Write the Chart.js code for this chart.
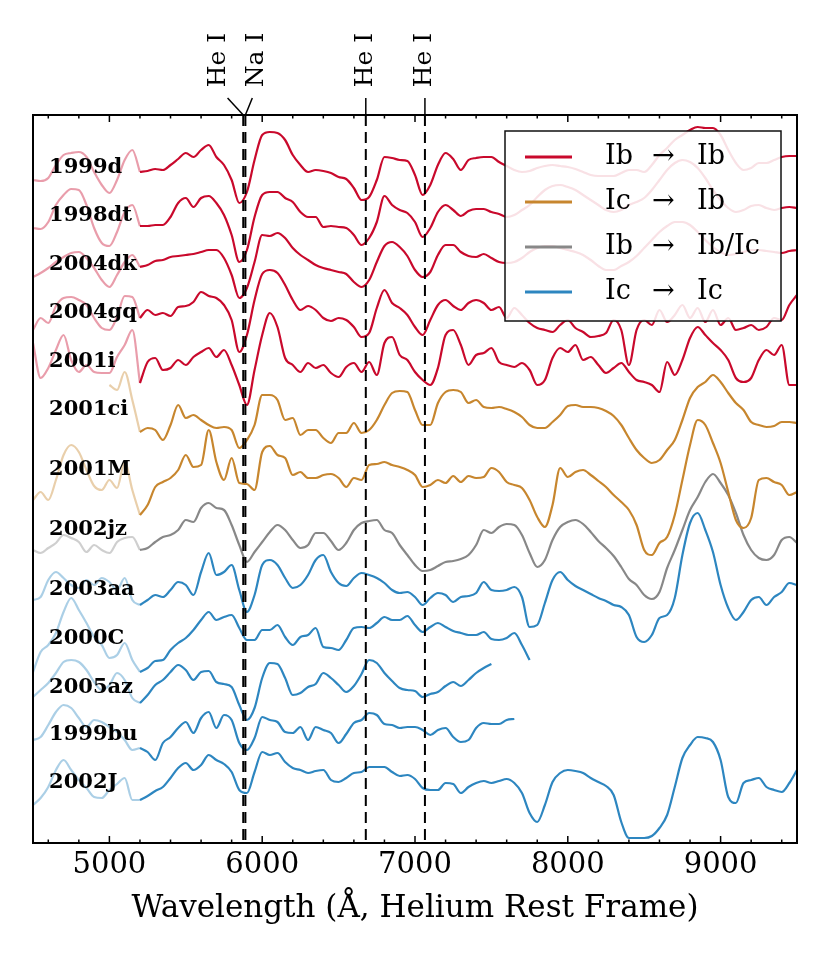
<!DOCTYPE html>
<html>
<head>
<meta charset="utf-8">
<script src="https://cdn.jsdelivr.net/npm/chart.js@4.4.1/dist/chart.umd.min.js"></script>
<style>
  body { margin: 0; background: #fff; }
</style>
</head>
<body>
<canvas id="myCanvas" width="830" height="969"></canvas>
<script>
// wavelength grid, Angstrom (50 A steps)
const wave = [];
for (let w = 4500; w <= 9500; w += 50) wave.push(w);
const fadeBelow = 5200;

// x ticks every 200 A, labelled every 1000 A
const tickWaves = [4600,4800,5000,5200,5400,5600,5800,6000,6200,6400,6600,6800,7000,
  7200,7400,7600,7800,8000,8200,8400,8600,8800,9000,9200,9400];
const tickLabels = ['5000','6000','7000','8000','9000'];

// spectra: scaled flux + offset, one value per grid point
const sn1999d = [820,819,822,835,845,847,848,843,828,815,
  807,820,840,850,828,829,831,830,835,841,847,843,850,855,843,835,820,797,808,840,
  865,868,867,860,845,835,828,830,829,827,823,821,812,800,803,820,843,842,840,839,
  825,805,815,835,847,841,830,840,842,843,843,838,834,830,828,829,832,834,835,834,
  833,831,828,825,824,824,824,827,830,830,828,835,845,852,860,865,870,873,872,872,
  865,850,837,830,832,837,837,840,843,844,844];
const sn1998dt = [772,771,778,795,805,811,810,795,772,757,
  754,768,788,795,774,774,775,775,783,797,802,793,802,804,797,785,765,738,750,783,
  805,808,808,802,798,788,783,783,773,774,773,772,765,755,762,778,804,795,790,787,
  778,763,772,788,795,790,784,789,791,791,788,786,783,785,790,795,803,810,814,815,
  813,810,805,800,795,790,788,790,795,798,802,810,820,830,837,840,838,832,822,810,
  800,792,788,790,794,795,792,790,792,793,792];
const sn2004dk = [723,727,732,738,743,747,748,742,732,720,
  713,725,738,745,733,735,739,740,743,744,745,746,748,750,750,742,725,702,712,738,
  765,764,767,762,752,745,740,735,732,730,728,726,718,713,720,738,754,758,753,744,
  730,723,728,745,755,755,748,744,743,746,742,738,737,738,742,748,752,754,754,752,
  750,748,745,740,734,730,730,734,738,744,752,760,768,774,778,778,775,768,760,753,
  748,745,746,748,750,750,749,748,747,749,750];
const sn2004gq = [670,682,677,694,702,703,700,695,682,672,
  670,683,704,703,682,690,685,687,684,693,694,698,708,704,702,695,680,648,665,700,
  726,730,727,715,700,690,694,690,682,679,682,680,673,663,667,692,710,697,692,685,
  673,665,680,695,700,694,690,697,700,697,690,693,682,692,685,677,672,670,668,675,
  680,672,668,663,664,667,680,670,635,670,680,675,690,678,685,695,682,692,678,690,
  675,682,670,672,675,670,673,682,680,695,705];
const sn2001i = [657,622,632,650,665,640,628,635,628,627,
  627,643,655,670,617,638,642,630,632,640,635,643,648,652,643,650,635,615,595,630,
  665,687,673,642,635,628,637,632,635,627,623,633,637,628,638,625,657,663,645,640,
  628,620,615,632,665,670,655,635,645,647,652,638,635,633,637,630,615,620,642,652,
  648,655,640,643,635,627,632,637,628,620,618,615,608,638,625,640,662,673,665,657,
  650,640,622,618,622,640,650,645,655,615,615];
const sn2001ci = [null,null,null,null,null,null,null,null,null,null,
  615,610,628,600,568,572,570,560,575,595,582,585,580,575,572,573,570,552,560,575,
  605,605,600,580,582,565,570,570,562,557,567,567,577,567,570,580,595,607,609,608,
  590,575,575,597,608,610,608,597,600,593,592,593,591,588,583,575,572,572,578,585,
  594,595,593,593,592,589,584,575,562,550,542,537,540,550,560,580,602,613,618,625,
  618,607,597,590,578,575,573,574,578,578,577];
const sn2001M = [500,508,500,520,545,555,548,530,514,510,
  520,512,538,510,485,495,513,518,522,530,545,533,535,570,538,520,542,517,516,510,
  548,554,545,542,525,528,522,522,525,526,522,513,522,520,535,536,538,535,533,530,
  525,513,515,520,517,524,518,524,522,523,532,528,518,515,512,500,483,473,495,532,
  523,528,530,525,519,513,505,498,490,475,450,445,457,463,485,520,555,580,575,557,
  537,508,480,472,482,520,522,518,515,505,508];
const sn2002jz = [450,447,452,457,465,462,458,448,455,450,
  447,458,462,463,450,452,458,463,465,470,480,478,492,497,492,490,475,455,438,448,
  458,468,475,470,460,452,455,467,467,459,450,457,470,477,479,480,470,467,455,445,
  435,429,430,434,438,439,441,445,455,470,467,473,476,475,465,447,433,440,460,473,
  478,480,476,468,459,452,444,433,421,415,405,401,408,432,450,470,490,503,518,526,
  517,505,487,465,450,442,440,445,460,463,457];
const sn2003aa = [400,403,420,428,422,415,412,420,415,422,
  418,410,422,400,395,400,405,403,410,418,415,405,428,447,425,428,435,410,388,405,
  435,440,435,422,412,415,425,440,445,428,417,414,422,427,425,422,417,410,407,408,
  403,395,402,407,405,398,403,404,407,418,410,409,410,413,403,373,375,397,420,428,
  420,414,410,406,402,399,395,393,385,363,358,365,382,385,402,445,477,487,470,448,
  415,392,380,388,400,403,395,403,408,417,415];
const sn2000C = [328,348,355,367,388,402,390,377,363,355,
  342,345,357,340,328,332,339,340,350,357,362,370,380,388,380,383,385,372,360,360,
  370,370,375,363,355,363,365,372,353,352,350,360,372,373,372,377,383,380,380,384,
  375,368,373,377,373,369,367,365,365,368,361,360,362,367,355,340];
const sn2005az = [303,310,317,327,338,340,338,330,318,310,
  315,327,320,302,297,305,315,320,328,335,330,320,328,329,318,316,313,295,280,292,
  322,337,336,322,305,307,313,316,327,322,315,308,314,326,340,337,327,319,312,310,
  309,303,306,308,314,318,314,320,327,332,336];
const sn1999bu = [260,263,275,288,295,292,282,273,280,278,
  273,268,260,250,252,248,240,257,263,272,278,267,282,288,272,285,280,257,250,262,
  283,280,278,268,267,273,260,273,270,267,257,266,277,280,287,285,276,275,272,273,
  273,270,265,270,272,263,258,260,272,277,276,276,280,281];
const sn2002J = [195,202,213,230,240,230,220,212,203,202,
  210,216,222,200,200,204,209,213,222,232,237,230,235,245,240,236,228,210,207,228,
  248,245,247,238,232,230,227,229,230,220,218,222,227,228,233,233,233,228,224,225,
  221,212,210,210,217,216,207,213,217,219,217,219,221,217,207,187,178,195,218,227,
  230,229,227,222,218,214,205,178,162,162,162,164,172,185,213,242,255,263,262,258,
  240,203,197,217,220,222,213,210,208,217,230];

const names = ['1999d','1998dt','2004dk','2004gq','2001i','2001ci','2001M',
  '2002jz','2003aa','2000C','2005az','1999bu','2002J'];
const spectra = [sn1999d, sn1998dt, sn2004dk, sn2004gq, sn2001i, sn2001ci, sn2001M,
  sn2002jz, sn2003aa, sn2000C, sn2005az, sn1999bu, sn2002J];
const groupOf = [0,0,0,0,0,1,1,2,3,3,3,3,3];
const labelLevel = [835,787,738,690,641,593,533,473,413,364,315,268,220];
const labelWave = 4605;

// legend: before -> after
const groupFrom = ['Ib','Ic','Ib','Ic'];
const groupTo = ['Ib','Ib','Ib/Ic','Ic'];
const groupRGB = ['201,9,44', '199,134,46', '136,136,136', '45,134,192'];

// marked lines
const lineWaves = [5876, 5890, 6678, 7065];
const lineNames = ['He I', 'Na I', 'He I', 'He I'];
const lineNameWaves = [5713, 5962, 6678, 7065];

const serif = "'DejaVu Serif', serif";

const datasets = [];
spectra.forEach((vals, i) => {
  const rgb = groupRGB[groupOf[i]];
  const faded = [], solid = [];
  vals.forEach((v, k) => {
    if (v === null) return;
    const p = {x: wave[k], y: v};
    if (wave[k] <= fadeBelow) faded.push(p);
    if (wave[k] >= fadeBelow) solid.push(p);
  });
  datasets.push({label: names[i] + ' blue', data: faded, borderColor: `rgba(${rgb},0.4)`});
  datasets.push({label: names[i], data: solid, borderColor: `rgb(${rgb})`});
});

const decor = {
  id: 'decor',
  afterDatasetsDraw(chart) {
    const {ctx, chartArea: a, scales: {x, y}} = chart;
    ctx.save();
    // dashed lines
    ctx.strokeStyle = '#000';
    ctx.lineWidth = 2;
    ctx.setLineDash([11, 6]);
    lineWaves.forEach(w => {
      const px = x.getPixelForValue(w);
      ctx.beginPath(); ctx.moveTo(px, a.top); ctx.lineTo(px, a.bottom); ctx.stroke();
    });
    ctx.setLineDash([]);
    // line names above the frame
    ctx.lineWidth = 1.5;
    ctx.fillStyle = '#000';
    ctx.font = `25px ${serif}`;
    ctx.textAlign = 'center';
    ctx.textBaseline = 'middle';
    lineWaves.forEach((w, i) => {
      const px = x.getPixelForValue(w);
      const lx = x.getPixelForValue(lineNameWaves[i]);
      ctx.beginPath();
      ctx.moveTo(lx + (px - lx) * 0.37, a.top - 17);
      ctx.lineTo(px, a.top);
      ctx.stroke();
      ctx.save();
      ctx.translate(lx, a.top - 55);
      ctx.rotate(-Math.PI / 2);
      ctx.fillText(lineNames[i], 0, 0);
      ctx.restore();
    });
    // names of the supernovae
    ctx.font = `bold 21px ${serif}`;
    ctx.textAlign = 'left';
    ctx.textBaseline = 'alphabetic';
    names.forEach((n, i) => {
      ctx.fillText(n, x.getPixelForValue(labelWave), y.getPixelForValue(labelLevel[i]) + 7.5);
    });
    // legend
    const bw = 276, bh = 190;
    const bx = a.right - 292, by = a.top + 16;
    ctx.fillStyle = 'rgba(255,255,255,0.88)';
    ctx.fillRect(bx, by, bw, bh);
    ctx.strokeStyle = '#111';
    ctx.lineWidth = 1.5;
    ctx.strokeRect(bx, by, bw, bh);
    ctx.font = `27px ${serif}`;
    ctx.textBaseline = 'middle';
    groupFrom.forEach((g, i) => {
      const ly = by + 26 + 45 * i;
      ctx.strokeStyle = `rgb(${groupRGB[i]})`;
      ctx.lineWidth = 3;
      ctx.beginPath(); ctx.moveTo(bx + 20, ly); ctx.lineTo(bx + 67, ly); ctx.stroke();
      ctx.fillStyle = '#000';
      ctx.fillText(g, bx + 100, ly);
      ctx.fillText('\u2192', bx + 147, ly);
      ctx.fillText(groupTo[i], bx + 192, ly);
    });
    ctx.restore();
  },
  afterDraw(chart) {
    const {ctx, chartArea: a, scales: {x}} = chart;
    ctx.save();
    ctx.strokeStyle = '#000';
    ctx.lineWidth = 1.5;
    tickWaves.forEach(w => {
      const px = x.getPixelForValue(w);
      const len = w % 1000 === 0 ? 7 : 3.5;
      ctx.beginPath();
      ctx.moveTo(px, a.bottom); ctx.lineTo(px, a.bottom - len);
      ctx.moveTo(px, a.top); ctx.lineTo(px, a.top + len);
      ctx.stroke();
    });
    ctx.lineWidth = 2;
    ctx.strokeRect(a.left, a.top, a.right - a.left, a.bottom - a.top);
    ctx.restore();
  }
};

const config = {
  type: 'line',
  data: {datasets: datasets},
  options: {
    responsive: false,
    animation: false,
    layout: {padding: {left: 33, right: 33, top: 115, bottom: 0}},
    elements: {
      point: {radius: 0},
      line: {borderWidth: 2.2, cubicInterpolationMode: 'monotone', fill: false}
    },
    plugins: {legend: {display: false}, tooltip: {enabled: false}},
    scales: {
      x: {
        type: 'linear', min: 4500, max: 9500,
        grid: {display: false, drawTicks: false},
        border: {display: false},
        afterBuildTicks: s => { s.ticks = tickWaves.map(v => ({value: v})); },
        ticks: {
          autoSkip: false, maxRotation: 0, padding: 5, color: '#000',
          font: {family: serif, size: 29},
          callback: v => (tickLabels.includes(String(v)) ? String(v) : '')
        },
        title: {
          display: true, text: 'Wavelength (Å, Helium Rest Frame)', color: '#000',
          font: {family: serif, size: 31}, padding: {top: 0, bottom: 41}
        },
        afterFit: s => { s.height = 126; }
      },
      y: {display: false, min: 157, max: 885}
    }
  },
  plugins: [decor]
};

new Chart(document.getElementById('myCanvas'), config);
</script>
</body>
</html>
